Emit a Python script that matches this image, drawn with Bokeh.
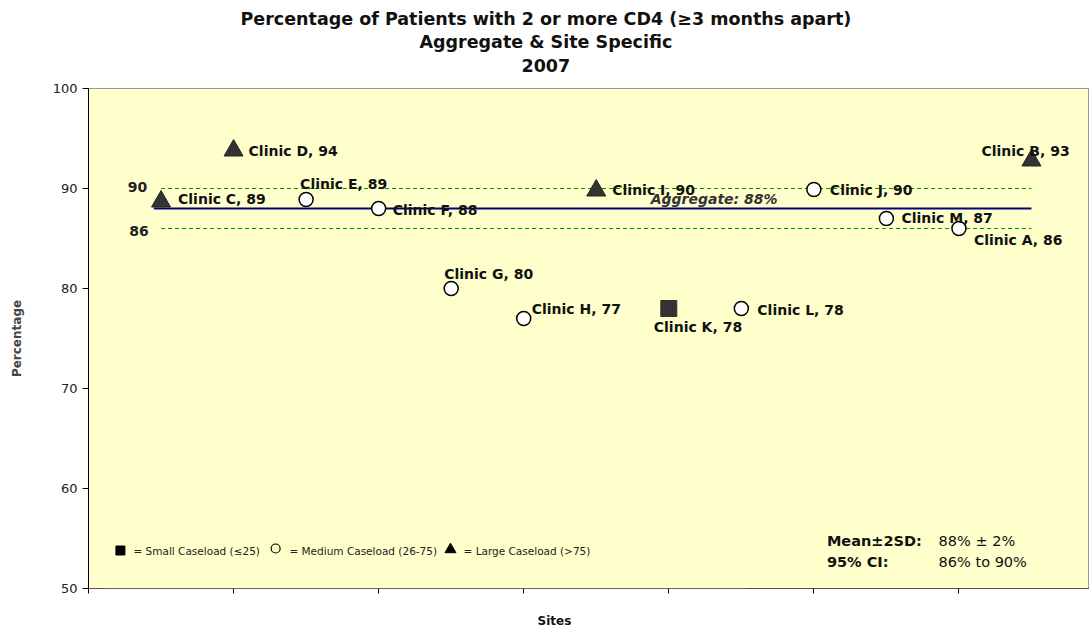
from bokeh.plotting import figure
from bokeh.models import Title, ColumnDataSource, FixedTicker, BoxAnnotation
from bokeh.core.properties import value
from bokeh.embed import file_html
from bokeh.resources import INLINE

# ---- data ----
clinics = ["Clinic C", "Clinic D", "Clinic E", "Clinic F", "Clinic G", "Clinic H", "Clinic I",
           "Clinic K", "Clinic L", "Clinic J", "Clinic M", "Clinic A", "Clinic B"]
percent = [88.7, 93.8, 88.9, 88.0, 80.0, 77.0, 89.8, 78.0, 78.0, 89.9, 87.0, 86.0, 92.8]
caseload = ["Large", "Large", "Medium", "Medium", "Medium", "Medium", "Large",
            "Small", "Medium", "Medium", "Medium", "Medium", "Large"]
aggregate = 88
lower_2sd = 86
upper_2sd = 90
y_ticks = [50, 60, 70, 80, 90, 100]
x_ticks = [0, 2, 4, 6, 8, 10, 12]
titles = ["Percentage of Patients with 2 or more CD4 (\u22653 months apart)",
          "Aggregate & Site Specific", "2007"]

# style: label offsets (pixels) and title offsets
lab_dx = [17, 15, -6, 14, -7, 8, 16, -15, 16, 16, 15, 15, -50]
lab_dy = [-3, 0, -16, 1, -15, -10, -1, 18, 1, 0, -1, 11, -10]
title_offsets = [152, 331, 433]
title_standoffs = [1, 1, 8]

FONT = "DejaVu Sans"
pos = list(range(1, len(clinics) + 1))
labels = [f"{c}, {round(v)}" for c, v in zip(clinics, percent)]

p = figure(width=1089, height=636, output_backend="svg", toolbar_location=None,
           x_range=(0, 13.8), y_range=(50, 100),
           min_border_left=88, min_border_right=0, min_border_top=88, min_border_bottom=48)
p.border_fill_color = "white"
p.background_fill_color = "#FFFFCC"
p.outline_line_color = "#999999"
p.grid.visible = False

# spacer between frame and titles
p.add_layout(Title(text=" ", text_font_size="10px", standoff=0), "above")
# titles (added bottom-up: last added is farthest from the frame)
for txt, off, so in reversed(list(zip(titles, title_offsets, title_standoffs))):
    p.add_layout(Title(text=txt, align="left", offset=off, standoff=so, text_font=FONT,
                       text_font_size="17.5px", text_font_style="bold", text_color="#111111"),
                 "above")

# axes
p.yaxis.ticker = FixedTicker(ticks=y_ticks)
p.yaxis.major_label_text_font = FONT
p.yaxis.major_label_text_font_size = "13px"
p.yaxis.major_label_text_color = "#222222"
p.yaxis.axis_line_color = "black"
p.yaxis.major_tick_in = 0
p.yaxis.major_tick_out = 6
p.yaxis.minor_tick_line_color = None
p.yaxis.axis_label = "Percentage"
p.yaxis.axis_label_text_font = FONT
p.yaxis.axis_label_text_font_size = "12px"
p.yaxis.axis_label_text_font_style = "bold"
p.yaxis.axis_label_standoff = 26

p.xaxis.ticker = FixedTicker(ticks=x_ticks)
p.xaxis.major_label_overrides = {t: " " for t in x_ticks}
p.xaxis.major_label_text_font_size = "6px"
p.xaxis.axis_line_color = "#555555"
p.xaxis.major_tick_in = 0
p.xaxis.major_tick_out = 5
p.xaxis.minor_tick_line_color = None

p.add_layout(Title(text="Sites", align="left", offset=449, standoff=8, text_font=FONT,
                   text_font_size="12px", text_font_style="bold", text_color="#111111"), "below")

# reference lines
p.line([1, 13], [upper_2sd, upper_2sd], line_color="#009900", line_width=1, line_dash="4 3")
p.line([1, 13], [lower_2sd, lower_2sd], line_color="#009900", line_width=1, line_dash="4 3")
p.line([0.9, 13], [aggregate, aggregate], line_color="#000080", line_width=2)

p.text([0.81], [upper_2sd], text=[f"{upper_2sd}"], text_align="right", text_baseline="middle",
       text_font=value(FONT), text_font_size="14px", text_font_style="bold", text_color="#222222", y_offset=-2)
p.text([0.83], [lower_2sd], text=[f"{lower_2sd}"], text_align="right", text_baseline="middle",
       text_font=value(FONT), text_font_size="14px", text_font_style="bold", text_color="#222222", y_offset=2)
p.text([7.75], [aggregate], text=[f"Aggregate: {aggregate}%"], text_align="left", text_baseline="middle",
       text_font=value(FONT), text_font_size="14px", text_font_style="bold italic", text_color="#333333", y_offset=-10)

# markers
def subset(kind):
    idx = [i for i, k in enumerate(caseload) if k == kind]
    return ColumnDataSource(dict(x=[pos[i] for i in idx], y=[percent[i] for i in idx]))

p.scatter("x", "y", source=subset("Large"), marker="triangle", size=19,
          fill_color="#333333", line_color="#222222")
p.scatter("x", "y", source=subset("Medium"), marker="circle", size=14,
          fill_color="white", line_color="black", line_width=1.5)
p.scatter("x", "y", source=subset("Small"), marker="square", size=16,
          fill_color="#333333", line_color="#333333")

lab_src = ColumnDataSource(dict(x=pos, y=percent, t=labels, dx=lab_dx, dy=lab_dy))
p.text("x", "y", text="t", source=lab_src, x_offset="dx", y_offset="dy",
       text_align="left", text_baseline="middle", text_font=value(FONT),
       text_font_size="14px", text_font_style="bold", text_color="#111111")

# legend box
p.add_layout(BoxAnnotation(left=0.23, right=9.06, bottom=50.05, top=56.0,
                           fill_alpha=0, line_color="#FFFFF0", line_width=1.5))
p.scatter([0.44], [53.8], marker="square", size=9, fill_color="black", line_color="black")
p.scatter([2.58], [54.0], marker="circle", size=9, fill_color="#FFFFCC", line_color="black", line_width=1.2)
p.scatter([4.99], [53.9], marker="triangle", size=11, fill_color="black", line_color="black")
p.text([0.62, 2.77, 5.17], [53.8, 53.8, 53.8],
       text=["= Small Caseload (\u226425)", "= Medium Caseload  (26-75)", "= Large Caseload (>75)"],
       text_align="left", text_baseline="middle", text_font=value(FONT), text_font_size="10.5px",
       text_color="#222222")

# stats
p.text([10.18, 10.18], [54.8, 52.7], text=["Mean\u00b12SD:", "95% CI:"], text_align="left",
       text_baseline="middle", text_font=value(FONT), text_font_size="14.5px", text_font_style="bold",
       text_color="#111111")
p.text([11.72, 11.72], [54.8, 52.7], text=[f"{aggregate}% \u00b1 2%", f"{lower_2sd}% to {upper_2sd}%"],
       text_align="left", text_baseline="middle", text_font=value(FONT), text_font_size="14.5px",
       text_color="#111111")

open("out.html", "w").write(file_html(p, INLINE))
